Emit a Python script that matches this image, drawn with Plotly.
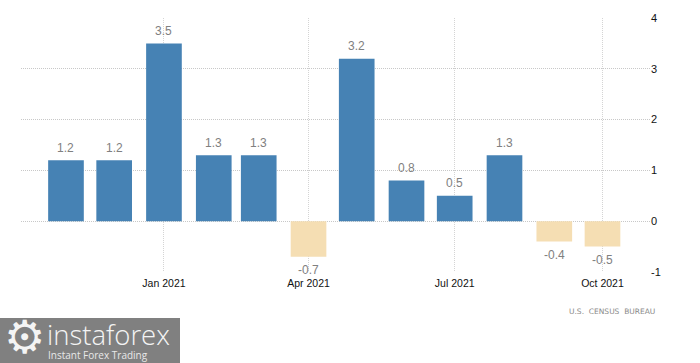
import plotly.graph_objects as go

months = ["2020-11-01", "2020-12-01", "2021-01-01", "2021-02-01", "2021-03-01", "2021-04-01",
          "2021-05-01", "2021-06-01", "2021-07-01", "2021-08-01", "2021-09-01", "2021-10-01"]
values = [1.2, 1.2, 3.5, 1.3, 1.3, -0.7, 3.2, 0.8, 0.5, 1.3, -0.4, -0.5]
x_ticks = ["2021-01-01", "2021-04-01", "2021-07-01", "2021-10-01"]
x_labels = ["Jan 2021", "Apr 2021", "Jul 2021", "Oct 2021"]
y_ticks = [-1, 0, 1, 2, 3, 4]
y_labels = ["-1", "0", "1", "2", "3", "4"]

BLUE = "#4682B4"
TAN = "#F5DEB3"
FONT = "Liberation Sans"
BAR_MS = 22.2 * 86400000
W, H = 629, 254


def px(x):
    return (x - 21) / W


def py(y):
    return (272 - y) / H


fig = go.Figure(go.Bar(
    x=months, y=values, width=BAR_MS,
    marker=dict(color=[BLUE if v >= 0 else TAN for v in values], line=dict(width=0)),
    hoverinfo="skip",
))

value_labels = [
    dict(text=str(v), x=m, y=v, xref="x", yref="y", showarrow=False,
         xanchor="center", yanchor="middle", yshift=12.5 if v >= 0 else -13,
         font=dict(family=FONT, size=12, color="#808080"))
    for m, v in zip(months, values)
]

logo_texts = [
    dict(text="U.S.  CENSUS  BUREAU", xref="paper", yref="paper", x=px(657), y=py(311.5),
         xanchor="right", yanchor="middle", showarrow=False,
         font=dict(family="DejaVu Sans", size=7.5, color="#8a8a8a")),
    dict(text="instaforex", xref="paper", yref="paper", x=px(45), y=py(334.5),
         xanchor="left", yanchor="middle", showarrow=False,
         font=dict(family="Open Sans", size=27.5, color="#f4f4f4", weight=300)),
    dict(text="Instant Forex Trading", xref="paper", yref="paper", x=px(46), y=py(355),
         xanchor="left", yanchor="middle", showarrow=False,
         font=dict(family="Open Sans", size=10, color="#e8e8e8")),
    dict(text="\u2699", xref="paper", yref="paper", x=px(24), y=py(337),
         xanchor="center", yanchor="middle", showarrow=False,
         font=dict(family="DejaVu Sans", size=46, color="#f4f4f4")),
]

fig.update_layout(
    width=700, height=363, autosize=False, showlegend=False,
    margin=dict(l=21, r=50, t=18, b=91, pad=0),
    paper_bgcolor="white", plot_bgcolor="white",
    font=dict(family=FONT, size=11, color="#111111"),
    xaxis=dict(type="date", range=["2020-10-04 00:00", "2021-10-30 14:00"],
               tickmode="array", tickvals=x_ticks, ticktext=x_labels,
               showgrid=True, gridcolor="#d4d4d4", griddash="1px,1px", gridwidth=1,
               zeroline=False, showline=False, ticks="", ticklabelstandoff=3,
               tickfont=dict(family=FONT, size=10.5, color="#111111")),
    yaxis=dict(range=[-1, 4], side="right", tickmode="array", tickvals=y_ticks, ticktext=y_labels,
               showgrid=True, gridcolor="#c8c8c8", griddash="1px,1px", gridwidth=1,
               zeroline=False, showline=False, ticks="",
               tickfont=dict(family=FONT, size=11, color="#111111")),
    shapes=[dict(type="rect", xref="paper", yref="paper", layer="below",
                 x0=px(0), x1=px(180), y0=py(363), y1=py(318),
                 fillcolor="#808080", line=dict(width=0))],
    annotations=value_labels + logo_texts,
)

fig.write_html("out.html", post_script="document.body.style.margin='0';",
               config={"displayModeBar": False})
